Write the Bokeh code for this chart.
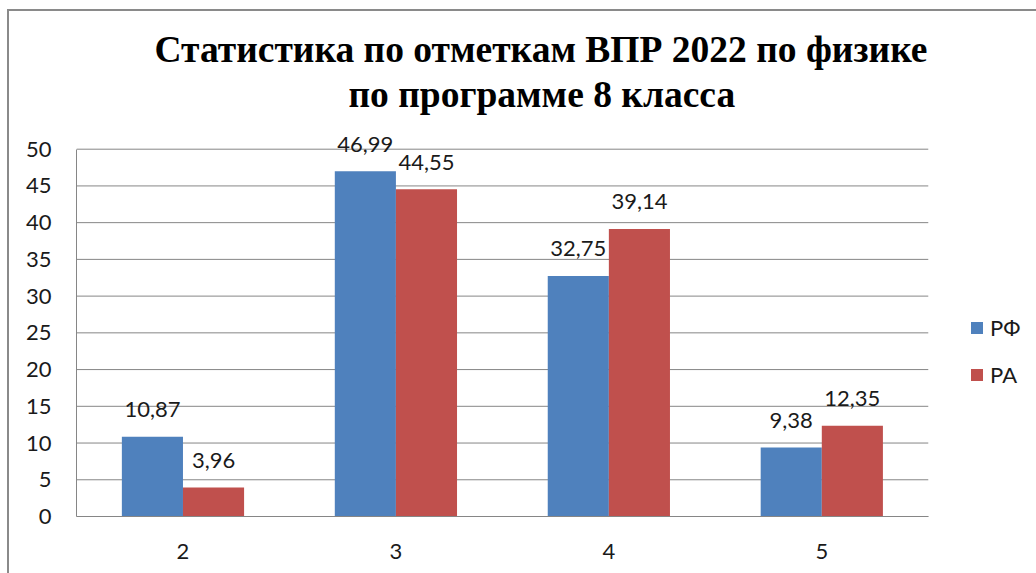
from bokeh.plotting import figure
from bokeh.models import (ColumnDataSource, Range1d, FixedTicker, SingleIntervalTicker,
                          Legend, LegendItem, Title)
from bokeh.transform import dodge
from bokeh.core.properties import value
from bokeh.embed import file_html
from bokeh.resources import INLINE

# ---- data ----
categories = ["2", "3", "4", "5"]
series_names = ["РФ", "РА"]
rf_values = [10.87, 46.99, 32.75, 9.38]
ra_values = [3.96, 44.55, 39.14, 12.35]
y_ticks = [0, 5, 10, 15, 20, 25, 30, 35, 40, 45, 50]
title_line1 = "Статистика по отметкам ВПР 2022 по физике"
title_line2 = "по программе 8 класса"

def fmt(v):
    return f"{v:.2f}".replace(".", ",")

n = len(categories)
xs = [i + 1 for i in range(n)]

src = ColumnDataSource(dict(
    x=xs,
    rf=rf_values,
    ra=ra_values,
    rf_lbl=[fmt(v) for v in rf_values],
    ra_lbl=[fmt(v) for v in ra_values],
))

BLUE = "#4F81BD"
RED = "#C0504D"
GRID = "#868686"
TXT = "#1a1a1a"
FONT = "Lato"
SERIF = "'Liberation Serif'"

# plot area: categories occupy 850px of a 960px-wide frame (legend lives in the rest)
x_start = 0.5
x_end = x_start + n * 960 / 850
p = figure(width=1027, height=562, x_range=Range1d(x_start, x_end),
           y_range=Range1d(0, 52), output_backend="svg", toolbar_location=None,
           min_border_left=67, min_border_right=0, min_border_bottom=59, min_border_top=123)
p.outline_line_color = None
p.background_fill_color = "white"
p.border_fill_color = "white"
p.styles = {"margin-left": "7px", "margin-top": "9px",
            "border-left": "2px solid #8a8a8a", "border-top": "2px solid #8a8a8a",
            "box-sizing": "content-box"}

# horizontal gridlines over the category area only
p.segment(x0=[x_start] * len(y_ticks), x1=[x_start + n] * len(y_ticks),
          y0=y_ticks, y1=y_ticks, line_color=GRID, line_width=1)

bw = 0.287
r1 = p.vbar(x=dodge("x", -bw / 2), top="rf", width=bw, source=src,
            fill_color=BLUE, line_color=None)
r2 = p.vbar(x=dodge("x", bw / 2), top="ra", width=bw, source=src,
            fill_color=RED, line_color=None)

p.text(x=dodge("x", -bw / 2), y="rf", text="rf_lbl", source=src,
       text_align="center", text_baseline="alphabetic", y_offset=-27,
       text_font=value(FONT), text_font_size="22px", text_color=TXT)
p.text(x=dodge("x", bw / 2), y="ra", text="ra_lbl", source=src,
       text_align="center", text_baseline="alphabetic", y_offset=-27,
       text_font=value(FONT), text_font_size="22px", text_color=TXT)

# axes
p.yaxis.ticker = SingleIntervalTicker(interval=5)
p.yaxis.bounds = (y_ticks[0], y_ticks[-1])
p.xaxis.ticker = FixedTicker(ticks=xs)
p.xaxis.major_label_overrides = {x: c for x, c in zip(xs, categories)}
p.xaxis.bounds = (x_start, x_start + n)
for ax in (p.xaxis, p.yaxis):
    ax.axis_line_color = GRID
    ax.major_tick_line_color = None
    ax.minor_tick_line_color = None
    ax.major_label_text_font = FONT
    ax.major_label_text_font_size = "22px"
    ax.major_label_text_color = TXT
p.yaxis.major_label_standoff = 19
p.xaxis.major_label_standoff = 21
p.xgrid.grid_line_color = None
p.ygrid.grid_line_color = None

# legend
legend = Legend(items=[LegendItem(label=series_names[0], renderers=[r1]),
                       LegendItem(label=series_names[1], renderers=[r2])],
                location=(893, 128), orientation="vertical",
                glyph_width=15, glyph_height=15, label_standoff=6, spacing=20,
                padding=0, margin=0,
                label_text_font=FONT, label_text_font_size="22px", label_text_color=TXT,
                border_line_color=None, background_fill_alpha=0)
p.add_layout(legend, "center")

# title (two lines)
t2 = Title(text=title_line2, align="left", offset=272, text_font=SERIF,
           text_font_style="bold", text_font_size="37.5px", text_color="black", standoff=40)
t1 = Title(text=title_line1, align="left", offset=78, text_font=SERIF,
           text_font_style="bold", text_font_size="37.5px", text_color="black", standoff=-37)
p.add_layout(t2, "above")
p.add_layout(t1, "above")

open("out.html", "w").write(file_html(p, INLINE))
